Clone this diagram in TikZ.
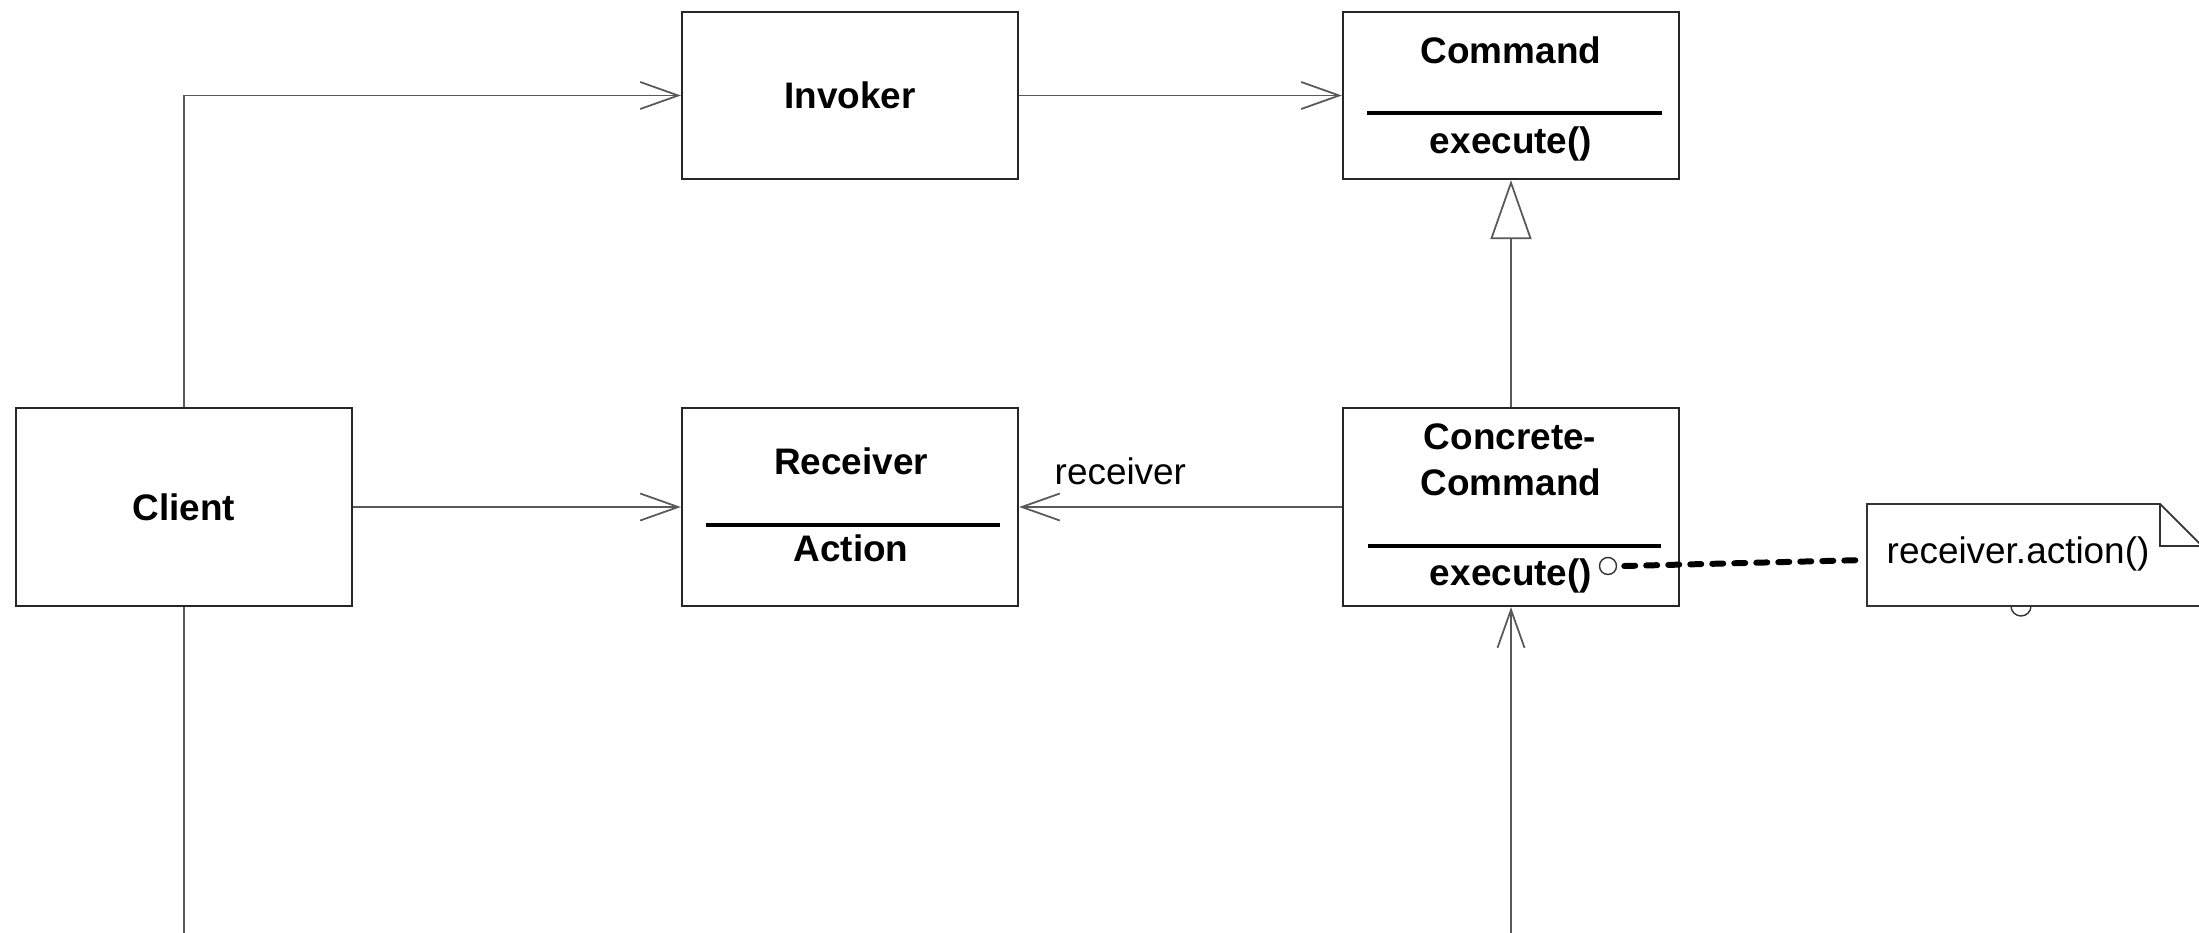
\documentclass[tikz,border=0pt]{standalone}
\usepackage{fontspec}
\setmainfont{Liberation Sans}
\usetikzlibrary{arrows.meta}
\begin{document}
\begin{tikzpicture}[x=0.01cm,y=-0.01cm,
  box/.style={draw=black!85,line width=0.6pt,minimum width=3.36cm,minimum height=1.67cm,inner sep=0pt,fill=white,font=\fontsize{10.5}{12}\selectfont\bfseries},
  tallbox/.style={box,minimum height=1.98cm},
  lbl/.style={font=\fontsize{10.5}{12}\selectfont\bfseries,anchor=base,inner sep=0pt},
  plain/.style={font=\fontsize{10.5}{12}\selectfont,inner sep=0pt,anchor=base west},
  sep/.style={line width=1.05pt},
  conn/.style={draw=black!65,line width=0.5pt},
  assoc/.style={conn,-{Straight Barb[length=0.38cm,width=0.27cm]}},
  inherit/.style={conn,-{Triangle[open,length=0.59cm,width=0.41cm,fill=white]}},
  lollipop/.style={circle,draw=black!80,line width=0.4pt,inner sep=0pt,fill=white},
  notedash/.style={line width=1.7pt,line cap=round,dash pattern=on 0.11cm off 0.11cm}]
\useasboundingbox (0,0) rectangle (2199,933);
\fill[white] (0,0) rectangle (2199,933);

% boxes
\node[box] (invoker) at (850,95.5) {Invoker};
\node[box] (command) at (1511,95.5) {};
\node[lbl] (commandT) at (1511,63) {Command};
\draw[sep] (1367,113) -- (1662,113);
\node[lbl] (commandM) at (1511,153) {execute()};

\node[tallbox] (client) at (184,507) {Client};

\node[tallbox] (receiver) at (850,507) {};
\node[lbl] (receiverT) at (851,474) {Receiver};
\draw[sep] (706,525) -- (1000,525);
\node[lbl] (receiverM) at (851,561) {Action};

\node[tallbox] (cc) at (1511,507) {};
\node[lbl] (ccT1) at (1510,449) {Concrete-};
\node[lbl] (ccT2) at (1511,495) {Command};
\draw[sep] (1368,546) -- (1661,546);
\node[lbl] (ccM) at (1511,585) {execute()};

% note
\node[lollipop,minimum size=0.2cm] (c2) at (2021,606) {};
\filldraw[fill=white,draw=black!80,line width=0.5pt] (1867,504) -- (2160,504) -- (2204,548) -- (2204,606) -- (1867,606) -- cycle;
\draw[black!80,line width=0.5pt] (2160,504) -- (2160,546) -- (2202,546);
\node[plain] (notetext) at (1886,563) {receiver.action()};
\coordinate (noteattach) at (1865,560);

\node[lollipop,minimum size=0.17cm] (c1) at (1608,566) {};
\draw[notedash] (c1.east) ++(0.07cm,0) -- (noteattach);

% connectors
\draw[assoc] (client.north) |- (invoker.west);
\draw[assoc] (invoker) -- (command);
\draw[assoc] (client) -- (receiver);
\draw[assoc] (cc) -- (receiver);
\node[plain] (receiverlabel) at (1054,484) {receiver};
\draw[inherit] (cc) -- (command);
\coordinate (b1) at (184,945);
\draw[conn] (client) -- (b1);
\coordinate (b2) at (1511,945);
\draw[assoc] (b2) -- (cc);
\end{tikzpicture}
\end{document}
